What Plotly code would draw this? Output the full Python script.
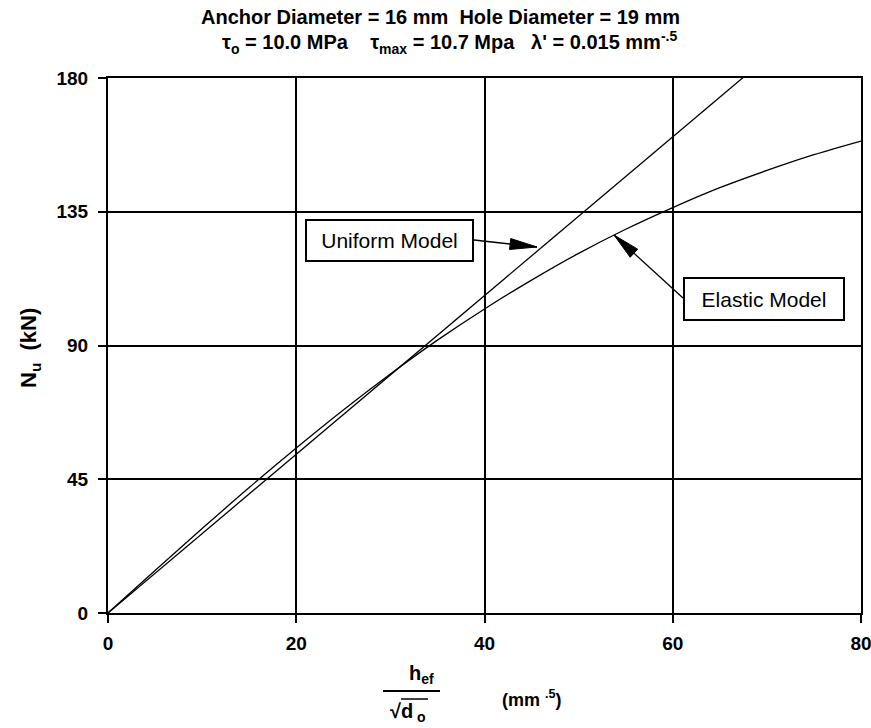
import plotly.graph_objects as go

# ---- data ----
x_uniform = [0, 10, 20, 30, 40, 50, 60, 70]
n_uniform = [0, 26.7, 53.4, 80.1, 106.8, 133.5, 160.2, 186.9]

x_elastic = [0, 5, 10, 15, 20, 25, 30, 35, 40, 45, 50, 55, 60, 65, 70, 75, 80]
n_elastic = [0, 14.3, 28.4, 42.2, 55.5, 68.3, 80.4, 91.8, 102.3, 112.0,
             121.0, 129.1, 136.4, 143.1, 148.9, 154.2, 158.8]

x_ticks = [0, 20, 40, 60, 80]
y_ticks = [0, 45, 90, 135, 180]

# ---- layout geometry ----
W, H = 871, 728
L, R, T, B = 108, 10, 78, 115
PW, PH = W - L - R, H - T - B
XMAX, YMAX = 80, 180
sx, sy = PW / XMAX, PH / YMAX  # px per data unit


def px2data(px, py):
    return (px - L) / sx, (H - B - py) / sy


def px2paper(px, py):
    return (px - L) / PW, (H - B - py) / PH


FONT = "Liberation Sans, Arial, Helvetica, sans-serif"

fig = go.Figure()
fig.add_trace(go.Scatter(x=x_uniform, y=n_uniform, mode="lines",
                         line=dict(color="black", width=1.3), showlegend=False))
fig.add_trace(go.Scatter(x=x_elastic, y=n_elastic, mode="lines",
                         line=dict(color="black", width=1.3, shape="spline", smoothing=1),
                         showlegend=False))

annotations = []
shapes = []

# titles
for txt, (cx, cy) in [
    ("Anchor Diameter = 16 mm  Hole Diameter = 19 mm", (440, 17)),
    ("τ<sub>o</sub> = 10.0 MPa    τ<sub>max</sub> = 10.7 Mpa   λ' = 0.015 mm<sup>-.5</sup>", (449, 42)),
]:
    px_, py_ = px2paper(cx, cy)
    annotations.append(dict(text=txt, x=px_, y=py_, xref="paper", yref="paper",
                            showarrow=False, xanchor="center", yanchor="middle",
                            font=dict(family=FONT, size=20, color="black", weight="bold")))

# y axis label
px_, py_ = px2paper(30, 348)
annotations.append(dict(text="N<sub>u</sub>  (kN)", x=px_, y=py_, xref="paper", yref="paper",
                        showarrow=False, textangle=-90, xanchor="center", yanchor="middle",
                        font=dict(family=FONT, size=22, color="black", weight="bold")))

# x axis label (fraction)
for txt, (cx, cy), size in [
    ("h<sub>ef</sub>", (421, 674), 20),
    ("√d<sub> o</sub>", (408, 712), 20),
    ("(mm <sup>.5</sup>)", (532, 698), 18),
]:
    px_, py_ = px2paper(cx, cy)
    annotations.append(dict(text=txt, x=px_, y=py_, xref="paper", yref="paper",
                            showarrow=False, xanchor="center", yanchor="middle",
                            font=dict(family=FONT, size=size, color="black", weight="bold")))
x0p, y0p = px2paper(383, 691)
x1p, _ = px2paper(440, 691)
shapes.append(dict(type="line", xref="paper", yref="paper", x0=x0p, x1=x1p, y0=y0p, y1=y0p,
                   line=dict(color="black", width=2)))
x0p, y0p = px2paper(401, 699)
x1p, _ = px2paper(428, 699)
shapes.append(dict(type="line", xref="paper", yref="paper", x0=x0p, x1=x1p, y0=y0p, y1=y0p,
                   line=dict(color="black", width=1.5)))

# labelled boxes with arrows
callouts = [
    # text, box centre px, box w/h, arrow tail px, arrow tip px
    ("Uniform Model", (389.5, 240.5), (165, 39), (474, 240), (537, 247)),
    ("Elastic Model", (764, 299), (158, 40), (683, 298), (614, 235)),
]
for txt, (bx, by), (bw, bh), tail, tip in callouts:
    dx, dy = px2data(bx, by)
    annotations.append(dict(text=txt, x=dx, y=dy, xref="x", yref="y", showarrow=False,
                            width=bw, height=bh, borderpad=0, borderwidth=2,
                            bordercolor="black", bgcolor="white",
                            font=dict(family=FONT, size=21, color="black")))
    # arrow shaft
    tx, ty = px2data(*tail)
    hx, hy = px2data(*tip)
    shapes.append(dict(type="line", xref="x", yref="y", x0=tx, y0=ty, x1=hx, y1=hy,
                       line=dict(color="black", width=1.3)))
    # arrow head (long narrow filled triangle)
    vx, vy = tip[0] - tail[0], tip[1] - tail[1]
    n = (vx ** 2 + vy ** 2) ** 0.5
    ux, uy = vx / n, vy / n
    hl, hw = 27, 11
    bxp, byp = tip[0] - ux * hl, tip[1] - uy * hl
    p1 = px2data(*tip)
    p2 = px2data(bxp - uy * hw / 2, byp + ux * hw / 2)
    p3 = px2data(bxp + uy * hw / 2, byp - ux * hw / 2)
    path = f"M {p1[0]},{p1[1]} L {p2[0]},{p2[1]} L {p3[0]},{p3[1]} Z"
    shapes.append(dict(type="path", xref="x", yref="y", path=path,
                       fillcolor="black", line=dict(color="black", width=1)))

axis_common = dict(
    showgrid=True, gridcolor="black", gridwidth=2,
    showline=True, linecolor="black", linewidth=2, mirror=True,
    ticks="outside", ticklen=8, tickwidth=2, tickcolor="black",
    tickfont=dict(family=FONT, size=19, color="black", weight="bold"),
    zeroline=False, fixedrange=True, automargin=False, ticklabeloverflow="allow",
)

fig.update_layout(
    width=W, height=H,
    margin=dict(l=L, r=R, t=T, b=B, autoexpand=False),
    paper_bgcolor="white", plot_bgcolor="white",
    xaxis=dict(range=[0, XMAX], tickvals=x_ticks, ticktext=[str(v) for v in x_ticks],
               ticklabelstandoff=4, **axis_common),
    yaxis=dict(range=[0, YMAX], tickvals=y_ticks, ticktext=[str(v) for v in y_ticks],
               ticklabelstandoff=6, **axis_common),
    annotations=annotations,
    shapes=shapes,
    showlegend=False,
)

fig.write_html("out.html", config={"displayModeBar": False},
               post_script="document.body.style.margin='0px';document.body.style.overflow='hidden';")
